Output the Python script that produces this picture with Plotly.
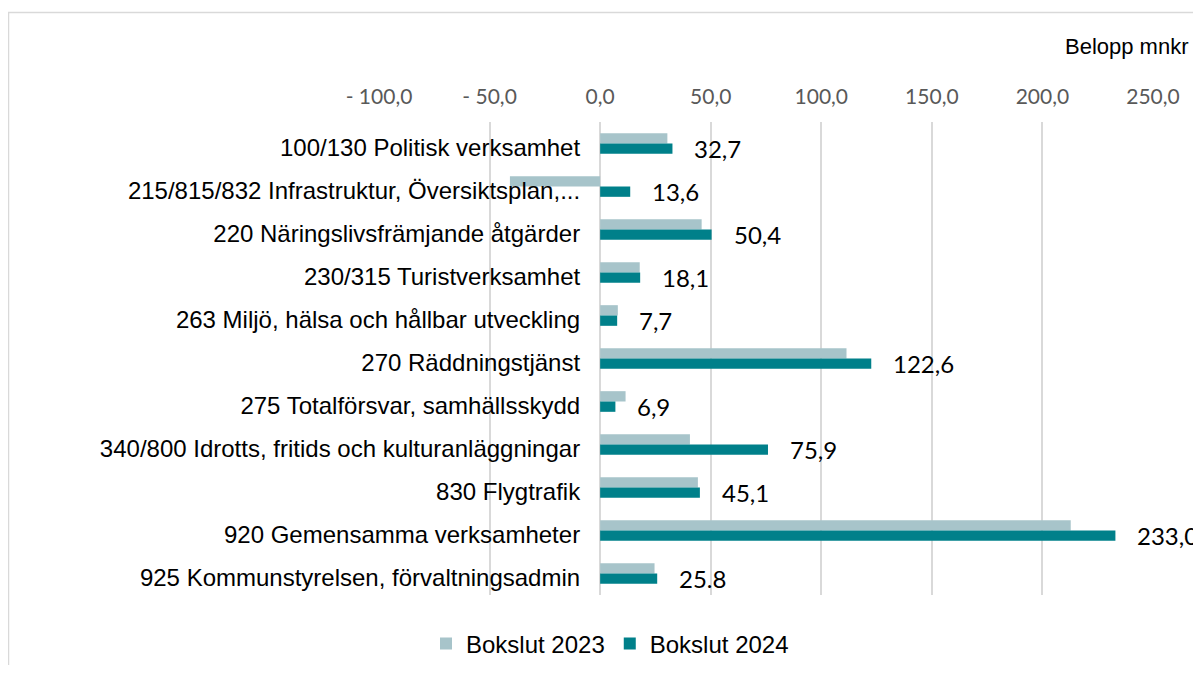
import plotly.graph_objects as go

categories = [
    "100/130 Politisk verksamhet",
    "215/815/832 Infrastruktur, Översiktsplan,...",
    "220 Näringslivsfrämjande åtgärder",
    "230/315 Turistverksamhet",
    "263 Miljö, hälsa och hållbar utveckling",
    "270 Räddningstjänst",
    "275 Totalförsvar, samhällsskydd",
    "340/800 Idrotts, fritids och kulturanläggningar",
    "830 Flygtrafik",
    "920 Gemensamma verksamheter",
    "925 Kommunstyrelsen, förvaltningsadmin",
]
bokslut_2023 = [30.4, -40.8, 45.9, 17.9, 8.0, 111.4, 11.5, 40.6, 44.2, 212.8, 24.6]
bokslut_2024 = [32.7, 13.6, 50.4, 18.1, 7.7, 122.6, 6.9, 75.9, 45.1, 233.0, 25.8]
labels_2024 = ["32,7", "13,6", "50,4", "18,1", "7,7", "122,6", "6,9", "75,9", "45,1", "233,0", "25.8"]
tick_vals = [-100, -50, 0, 50, 100, 150, 200, 250]
tick_text = ["- 100,0", "- 50,0", "0,0", "50,0", "100,0", "150,0", "200,0", "250,0"]
x_min, x_max = -100, 250

OFF = 8  # browser default body margin
W, H = 1201 - OFF, 673 - 2 * OFF
# plot area in page pixels
PL, PR, PT, PB = 379, 1153, 122, 595
ML = PL - OFF
MR = W - (PR - OFF)
MT = PT - OFF
MB = H - (PB - OFF)
pw = PR - PL
ph = PB - PT

def px_x(p):
    return (p - PL) / pw

def px_y(p):
    return (PB - p) / ph

fig = go.Figure()
fig.add_trace(go.Bar(
    y=categories, x=bokslut_2023, orientation="h", name="Bokslut 2023",
    marker=dict(color="#A7C4CA", line=dict(width=0)),
))
fig.add_trace(go.Bar(
    y=categories, x=bokslut_2024, orientation="h", name="Bokslut 2024",
    marker=dict(color="#00808A", line=dict(width=0)),
))

for c, v, t in zip(categories, bokslut_2024, labels_2024):
    fig.add_annotation(
        x=v, y=c, xref="x", yref="y", text=t, showarrow=False,
        xanchor="left", yanchor="middle", xshift=20, yshift=-5,
        font=dict(family="Lato, Carlito, Open Sans, sans-serif", size=24, color="#000000"),
    )

fig.add_annotation(
    x=px_x(1191), y=px_y(47), xref="paper", yref="paper", text="Belopp mnkr",
    showarrow=False, xanchor="right", yanchor="middle",
    font=dict(family="Liberation Sans, Arial, sans-serif", size=22, color="#000000"),
)

fig.add_shape(
    type="rect", xref="paper", yref="paper",
    x0=px_x(8.5), x1=px_x(1220), y0=px_y(700), y1=px_y(12.5),
    line=dict(color="#D9D9D9", width=1.5), fillcolor="rgba(0,0,0,0)", layer="below",
)

fig.update_layout(
    width=W, height=H,
    margin=dict(l=ML, r=MR, t=MT, b=MB, autoexpand=False),
    paper_bgcolor="white", plot_bgcolor="white",
    barmode="group", bargap=0.52, bargroupgap=0,
    showlegend=True,
    legend=dict(
        orientation="h", x=px_x(610), y=px_y(644), xanchor="center", yanchor="middle",
        font=dict(family="Liberation Sans, Arial, sans-serif", size=24, color="#000000"),
        itemsizing="constant", traceorder="normal",
    ),
    xaxis=dict(
        side="top", range=[x_min, x_max], tickvals=tick_vals, ticktext=tick_text,
        showgrid=True, gridcolor="#D9D9D9", gridwidth=1.5,
        zeroline=True, zerolinecolor="#D9D9D9", zerolinewidth=1.5,
        showline=False, ticks="", ticklabelstandoff=13, automargin=False,
        tickfont=dict(family="Lato, Carlito, Open Sans, sans-serif", size=21, color="#595959"),
    ),
    yaxis=dict(
        autorange="reversed", anchor="free", position=(0 - x_min) / (x_max - x_min),
        showgrid=False, zeroline=False, showline=False, ticks="", automargin=False,
        ticklabelstandoff=20, ticklabelshift=-4,
        tickfont=dict(family="Liberation Sans, Arial, sans-serif", size=24, color="#000000"),
    ),
)

fig.write_html("out.html")
